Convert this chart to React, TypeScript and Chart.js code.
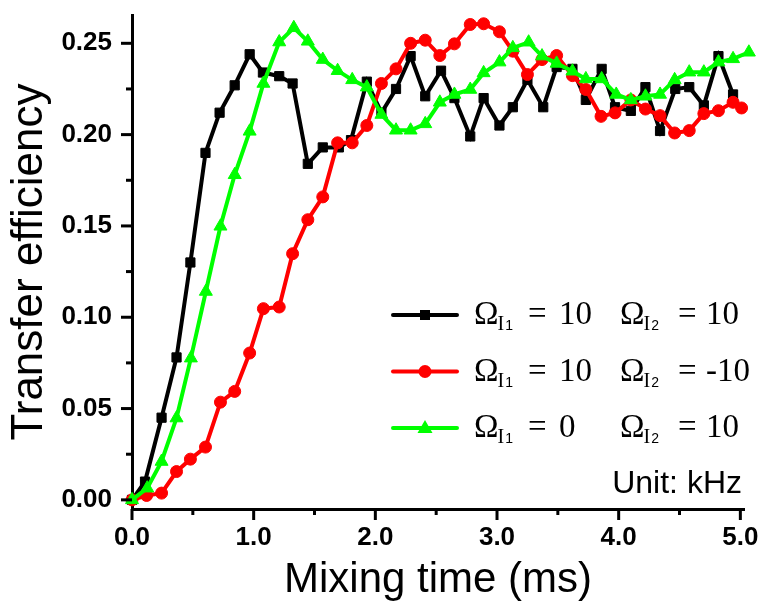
import React, { useEffect, useRef } from 'react';
import { Chart, registerables } from 'chart.js';

Chart.register(...registerables);

// ---- data ----
const xBlack = [0, 0.107, 0.243, 0.366, 0.48, 0.604, 0.72, 0.844, 0.967, 1.076, 1.21, 1.32, 1.445, 1.568, 1.7, 1.8, 1.93, 2.05, 2.17, 2.29, 2.41, 2.54, 2.65, 2.78, 2.89, 3.02, 3.13, 3.25, 3.38, 3.49, 3.62, 3.73, 3.86, 3.97, 4.1, 4.22, 4.34, 4.465, 4.58, 4.7, 4.82, 4.94];
const yBlack = [0, 0.01, 0.045, 0.078, 0.13, 0.19, 0.212, 0.227, 0.244, 0.234, 0.232, 0.228, 0.184, 0.193, 0.193, 0.197, 0.229, 0.212, 0.225, 0.243, 0.221, 0.235, 0.22, 0.199, 0.22, 0.205, 0.215, 0.23, 0.215, 0.237, 0.236, 0.219, 0.236, 0.215, 0.213, 0.226, 0.202, 0.225, 0.226, 0.216, 0.243, 0.222];

const xRed = [0, 0.12, 0.243, 0.366, 0.48, 0.604, 0.727, 0.844, 0.967, 1.08, 1.21, 1.32, 1.445, 1.568, 1.69, 1.81, 1.93, 2.05, 2.17, 2.29, 2.41, 2.53, 2.65, 2.78, 2.89, 3.02, 3.13, 3.25, 3.37, 3.49, 3.62, 3.73, 3.855, 3.97, 4.1, 4.22, 4.34, 4.46, 4.58, 4.7, 4.82, 4.94, 5.01];
const yRed = [0, 0.0024, 0.0037, 0.0155, 0.0223, 0.0289, 0.0535, 0.0594, 0.0804, 0.1047, 0.1056, 0.1348, 0.1534, 0.1659, 0.1955, 0.1955, 0.205, 0.228, 0.236, 0.25, 0.2517, 0.2433, 0.2497, 0.2603, 0.2607, 0.2563, 0.2457, 0.2329, 0.2411, 0.2433, 0.2323, 0.2247, 0.21, 0.2119, 0.219, 0.214, 0.2104, 0.2009, 0.2022, 0.2115, 0.2131, 0.2177, 0.2146];

const xGreen = [0, 0.125, 0.243, 0.366, 0.484, 0.607, 0.727, 0.844, 0.967, 1.08, 1.21, 1.33, 1.445, 1.568, 1.69, 1.81, 1.93, 2.05, 2.17, 2.29, 2.41, 2.53, 2.65, 2.78, 2.89, 3.02, 3.13, 3.26, 3.37, 3.49, 3.62, 3.73, 3.86, 3.98, 4.1, 4.22, 4.34, 4.46, 4.58, 4.7, 4.82, 4.94, 5.07];
const yGreen = [0, 0.0064, 0.021, 0.0448, 0.0776, 0.1141, 0.1498, 0.178, 0.2018, 0.228, 0.2507, 0.2585, 0.2511, 0.2411, 0.235, 0.23, 0.226, 0.211, 0.2024, 0.2024, 0.2059, 0.2177, 0.222, 0.2247, 0.2338, 0.2397, 0.2475, 0.2506, 0.243, 0.239, 0.2347, 0.2305, 0.2305, 0.222, 0.219, 0.221, 0.222, 0.23, 0.2342, 0.2342, 0.2397, 0.2415, 0.2451];

const xTickValues = [0, 0.5, 1, 1.5, 2, 2.5, 3, 3.5, 4, 4.5, 5];
const yTickValues = [0, 0.025, 0.05, 0.075, 0.1, 0.125, 0.15, 0.175, 0.2, 0.225, 0.25];

const seriesColors = ['#000000', '#ff0000', '#00ff00'];
const seriesMarkers = ['rect', 'circle', 'triangle'];
const legendOmega1 = ['10', '10', '0'];
const legendOmega2 = ['10', '-10', '10'];
const unitText = 'Unit: kHz';
const xTitle = 'Mixing time (ms)';
const yTitle = 'Transfer efficiency';

const SANS = '"Liberation Sans", Arial, Helvetica, sans-serif';
const SERIF = '"Liberation Serif", "Times New Roman", Times, serif';

function toPoints(xs: number[], ys: number[]) {
  return xs.map((x, i) => ({ x, y: ys[i] }));
}

function drawMarker(ctx: CanvasRenderingContext2D, style: string, x: number, y: number, color: string) {
  ctx.fillStyle = color;
  ctx.beginPath();
  if (style === 'rect') {
    ctx.rect(x - 5, y - 5, 10, 10);
  } else if (style === 'circle') {
    ctx.arc(x, y, 6.5, 0, Math.PI * 2);
  } else {
    ctx.moveTo(x, y - 8);
    ctx.lineTo(x + 7.5, y + 5);
    ctx.lineTo(x - 7.5, y + 5);
    ctx.closePath();
  }
  ctx.fill();
}

const decorPlugin = {
  id: 'decor',
  afterDatasetsDraw(chart: any) {
    const ctx: CanvasRenderingContext2D = chart.ctx;
    const xs = chart.scales.x;
    const ys = chart.scales.y;
    const area = chart.chartArea;
    ctx.save();
    // tick marks
    ctx.strokeStyle = '#000';
    ctx.lineWidth = 3;
    ctx.lineCap = 'butt';
    for (const v of xTickValues) {
      const px = xs.getPixelForValue(v);
      const major = Math.abs(v - Math.round(v)) < 1e-9;
      ctx.beginPath();
      ctx.moveTo(px, area.bottom);
      ctx.lineTo(px, area.bottom + (major ? 11 : 6));
      ctx.stroke();
    }
    for (const v of yTickValues) {
      const py = ys.getPixelForValue(v);
      const major = Math.abs(v * 20 - Math.round(v * 20)) < 1e-6;
      ctx.beginPath();
      ctx.moveTo(area.left, py);
      ctx.lineTo(area.left - (major ? 11 : 6), py);
      ctx.stroke();
    }

    // legend
    const rowY0 = 315;
    const rowGap = 56.5;
    for (let i = 0; i < 3; i++) {
      const ry = rowY0 + i * rowGap;
      ctx.strokeStyle = seriesColors[i];
      ctx.lineWidth = 4;
      ctx.lineCap = 'round';
      ctx.beginPath();
      ctx.moveTo(393, ry);
      ctx.lineTo(457, ry);
      ctx.stroke();
      drawMarker(ctx, seriesMarkers[i], 425, ry, seriesColors[i]);

      ctx.fillStyle = '#000';
      ctx.textBaseline = 'alphabetic';
      ctx.textAlign = 'left';
      const base = ry + 9;
      const drawOmega = (x: number, sub: string) => {
        ctx.font = `33px ${SERIF}`;
        ctx.fillText('\u03A9', x, base);
        const w = ctx.measureText('\u03A9').width;
        ctx.font = `20px ${SERIF}`;
        ctx.fillText('I', x + w - 1, base + 6);
        const w2 = ctx.measureText('I').width;
        ctx.font = `14px ${SANS}`;
        ctx.fillText(sub, x + w + w2, base + 6);
      };
      drawOmega(474, '1');
      ctx.font = `33px ${SERIF}`;
      ctx.fillText('=', 528, base);
      ctx.fillText(legendOmega1[i], 559, base);
      drawOmega(620, '2');
      ctx.font = `33px ${SERIF}`;
      ctx.fillText('=', 678, base);
      ctx.fillText(legendOmega2[i], 706, base);
    }
    ctx.font = `32px ${SANS}`;
    ctx.textAlign = 'right';
    ctx.fillStyle = '#000';
    ctx.fillText(unitText, 742, 493);
    ctx.restore();
  },
};

export default function App() {
  const canvasRef = useRef<HTMLCanvasElement | null>(null);

  useEffect(() => {
    document.body.style.margin = '0';
    document.body.style.overflow = 'hidden';
    const canvas = canvasRef.current;
    if (!canvas) return;

    const mk = (label: string, xs: number[], ys: number[], i: number, r: number, order: number) => ({
      label,
      data: toPoints(xs, ys),
      borderColor: seriesColors[i],
      backgroundColor: seriesColors[i],
      borderWidth: 4,
      pointStyle: seriesMarkers[i],
      pointRadius: r,
      pointBorderWidth: 1,
      pointBorderColor: seriesColors[i],
      pointBackgroundColor: seriesColors[i],
      tension: 0,
      clip: false as any,
      order,
    });

    const chart = new Chart(canvas, {
      type: 'line',
      data: {
        datasets: [
          mk('black', xBlack, yBlack, 0, 6.5, 3),
          mk('red', xRed, yRed, 1, 6, 2),
          mk('green', xGreen, yGreen, 2, 7.5, 1),
        ] as any,
      },
      options: {
        animation: false,
        responsive: false,
        maintainAspectRatio: false,
        layout: { padding: { top: 15, right: 15, left: 0, bottom: 0 } },
        plugins: {
          legend: { display: false },
          tooltip: { enabled: false },
        },
        scales: {
          x: {
            type: 'linear',
            min: 0,
            max: 5.03,
            afterBuildTicks: (s: any) => {
              s.ticks = xTickValues.map((v) => ({ value: v }));
            },
            afterFit: (s: any) => {
              s.height = 94;
              s.paddingLeft = 0;
              s.paddingRight = 0;
              s.paddingTop = 0;
              s.paddingBottom = 0;
            },
            grid: { display: false, drawTicks: false },
            border: { display: true, color: '#000', width: 3 },
            ticks: {
              autoSkip: false,
              maxRotation: 0,
              padding: 13,
              color: '#000',
              font: { family: SANS, size: 26, weight: 'bold' },
              callback: (v: any) => (Math.abs(v - Math.round(v)) < 1e-9 ? Number(v).toFixed(1) : ''),
            },
            title: {
              display: true,
              text: xTitle,
              color: '#000',
              font: { family: SANS, size: 42, lineHeight: 1 },
              padding: { top: 0, bottom: 2 },
            },
          },
          y: {
            type: 'linear',
            min: -0.005,
            max: 0.2655,
            afterBuildTicks: (s: any) => {
              s.ticks = yTickValues.map((v) => ({ value: v }));
            },
            afterFit: (s: any) => {
              s.width = 132;
              s.paddingLeft = 0;
              s.paddingRight = 0;
              s.paddingTop = 0;
              s.paddingBottom = 0;
            },
            grid: { display: false, drawTicks: false },
            border: { display: true, color: '#000', width: 3 },
            ticks: {
              autoSkip: false,
              padding: 20,
              color: '#000',
              font: { family: SANS, size: 26, weight: 'bold' },
              callback: (v: any) =>
                Math.abs(v * 20 - Math.round(v * 20)) < 1e-6 ? Number(v).toFixed(2) : '',
            },
            title: {
              display: true,
              text: yTitle,
              color: '#000',
              font: { family: SANS, size: 44, lineHeight: 1 },
              padding: { top: 8, bottom: 0 },
            },
          },
        },
      } as any,
      plugins: [decorPlugin],
    });

    return () => {
      chart.destroy();
    };
  }, []);

  return (
    <div style={{ width: 759, height: 603 }}>
      <canvas ref={canvasRef} width={759} height={603} style={{ display: 'block', width: 759, height: 603 }} />
    </div>
  );
}
